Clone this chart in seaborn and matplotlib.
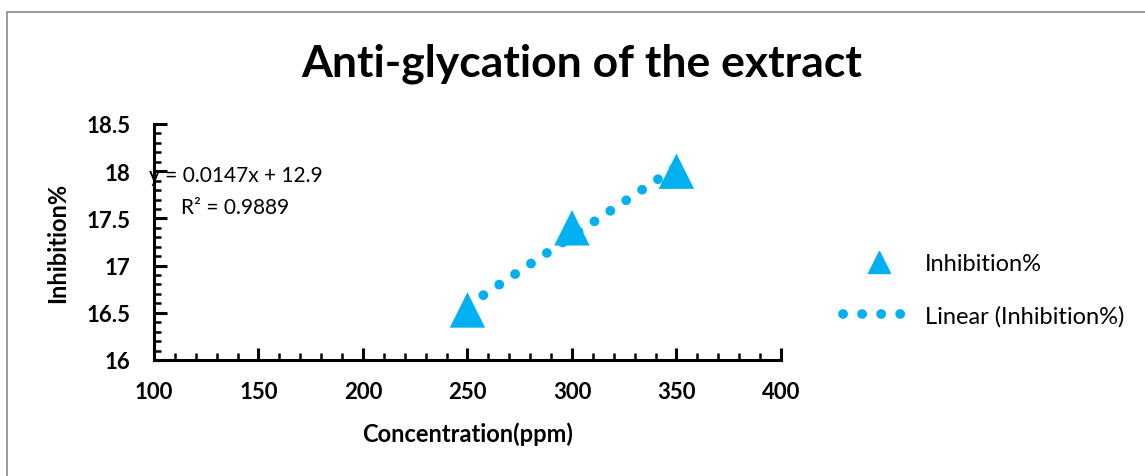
import numpy as np
import pandas as pd
import matplotlib
matplotlib.use("Agg")
import matplotlib.pyplot as plt
import seaborn as sns
from matplotlib.lines import Line2D
from matplotlib.patches import Rectangle
from matplotlib.ticker import MultipleLocator

concentration = [250, 300, 350]
inhibition = [16.53, 17.40, 18.00]
x_ticks = [100, 150, 200, 250, 300, 350, 400]
y_ticks = [16, 16.5, 17, 17.5, 18, 18.5]
y_tick_labels = ["16", "16.5", "17", "17.5", "18", "18.5"]

df = pd.DataFrame({"Concentration(ppm)": concentration, "Inhibition%": inhibition})

sns.set_theme(style="white")
plt.rcParams['font.family'] = ['Lato', 'DejaVu Sans']
plt.rcParams['text.color'] = 'black'
plt.rcParams['axes.labelcolor'] = 'black'
plt.rcParams['xtick.color'] = 'black'
plt.rcParams['ytick.color'] = 'black'

color = "#00B0F0"
fig = plt.figure(figsize=(11.45, 4.77), dpi=100)
ax = fig.add_axes([0.1345, 0.2432, 0.682 - 0.1345, 0.738 - 0.2432])

slope, intercept = np.polyfit(concentration, inhibition, 1)
pred = np.polyval([slope, intercept], concentration)
r2 = 1 - np.sum((np.array(inhibition) - pred) ** 2) / np.sum((np.array(inhibition) - np.mean(inhibition)) ** 2)

dot_style = (0, (0.01, 1.95))
sns.regplot(data=df, x="Concentration(ppm)", y="Inhibition%", ax=ax, scatter=False, ci=None,
            truncate=True, color=color,
            line_kws=dict(linestyle=dot_style, linewidth=7.0, dash_capstyle="round", zorder=2))
sns.scatterplot(data=df, x="Concentration(ppm)", y="Inhibition%", ax=ax, marker="^", s=650,
                color=color, edgecolor="none", zorder=3)

ax.set_xlim(100, 400)
ax.set_ylim(16, 18.5)
ax.set_xticks(x_ticks)
ax.set_xticklabels([str(v) for v in x_ticks], fontdict=dict(fontweight="bold", fontsize=16))
ax.set_yticks(y_ticks)
ax.set_yticklabels(y_tick_labels, fontdict=dict(fontweight="bold", fontsize=16))
ax.xaxis.set_minor_locator(MultipleLocator(10))
ax.yaxis.set_minor_locator(MultipleLocator(0.1))
ax.tick_params(axis="x", which="major", direction="in", length=9, width=2.2, pad=15, bottom=True)
ax.tick_params(axis="y", which="major", direction="in", length=9, width=2.2, pad=17, left=True)
ax.tick_params(axis="both", which="minor", direction="in", length=5, width=1.8,
               bottom=True, left=True)
for side in ["top", "right"]:
    ax.spines[side].set_visible(False)
for side in ["left", "bottom"]:
    ax.spines[side].set_linewidth(2.2)
    ax.spines[side].set_color("black")

ax.set_xlabel("Concentration(ppm)", fontsize=17, fontweight="bold", labelpad=14)
ax.set_ylabel("Inhibition%", fontsize=17, fontweight="bold", labelpad=12)
fig.text(582 / 1145, 1 - 64 / 477, "Anti-glycation of the extract", fontsize=32,
         fontweight="bold", ha="center", va="center")

ax.text(97.5, 17.96, f"y = {slope:.4f}x + {intercept:.1f}", fontsize=15, va="center", ha="left")
ax.text(113, 17.62, f"R² = {r2:.4f}", fontsize=15, va="center", ha="left")

handles = [
    Line2D([], [], marker="^", color=color, linestyle="none", markersize=16),
    Line2D([], [], color=color, linestyle=dot_style, linewidth=7.0, dash_capstyle="round"),
]
fig.legend(handles, ["Inhibition%", "Linear (Inhibition%)"], loc="center left",
           bbox_to_anchor=(0.718, 0.39), frameon=False, fontsize=17, handlelength=3.0,
           labelspacing=1.3, handletextpad=0.45)

fig.patches.append(Rectangle((7 / 1145, -0.1), 1.2, 1 - 13 / 477 + 0.1, transform=fig.transFigure,
                             fill=False, edgecolor="#888888", linewidth=1.2))

fig.savefig("out.png", dpi=100)
